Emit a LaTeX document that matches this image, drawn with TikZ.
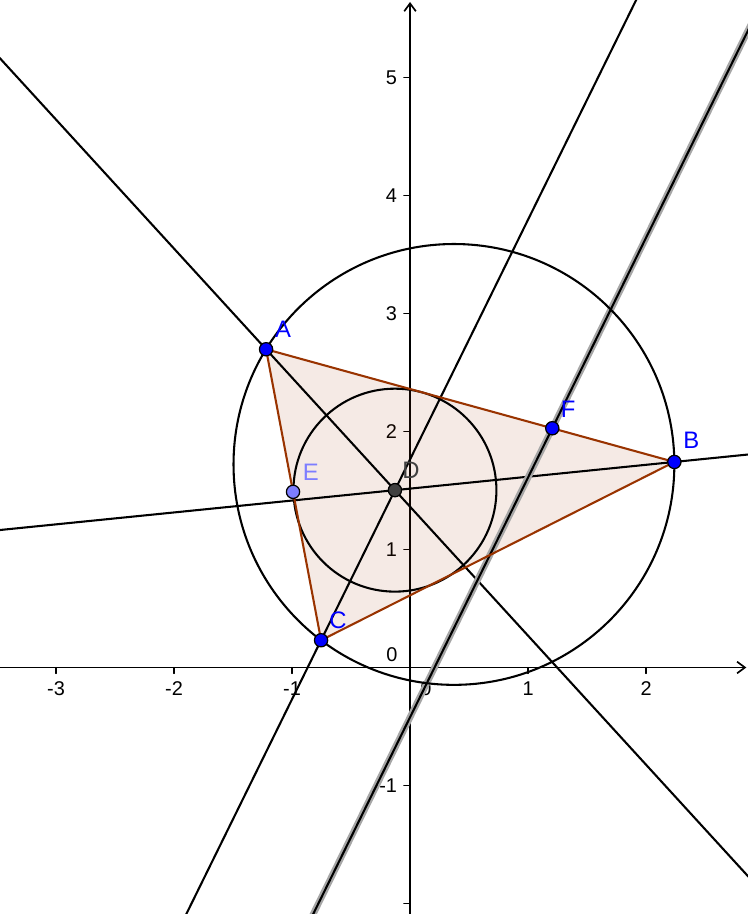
\documentclass[tikz,border=0pt]{standalone}
\usepackage{fontspec}
\setmainfont{Liberation Sans}
\usetikzlibrary{calc,arrows.meta}
\definecolor{ptblue}{RGB}{0,0,255}
\definecolor{ptdark}{RGB}{64,64,64}
\definecolor{ptlight}{RGB}{125,125,255}
\definecolor{polybrown}{RGB}{153,51,0}
\tikzset{
  pt/.style={circle,draw=black,line width=0.6pt,inner sep=0pt,minimum size=6.4pt,fill=#1},
  lbl/.style={font=\fontsize{11.5}{13}\selectfont,text=#1,inner sep=0pt},
  ticklbl/.style={font=\fontsize{9.6}{11}\selectfont,inner sep=1pt},
  axis/.style={line width=0.8pt},
  tick/.style={line width=0.6pt},
  bline/.style={line width=1pt},
}
\begin{document}
\begin{tikzpicture}[x=2cm,y=2cm,line join=round,line cap=round,>={Straight Barb[length=3.8pt,width=5.6pt]}]
  \useasboundingbox (-3.475,-2.089) rectangle (2.864,5.657);
  \clip (-3.475,-2.089) rectangle (2.864,5.657);
  % points
  \coordinate (A) at (-1.220,2.697);
  \coordinate (B) at (2.240,1.742);
  \coordinate (C) at (-0.754,0.231);
  \coordinate (D) at (-0.128,1.503);
  \coordinate (M) at (0.372,1.721);
  \coordinate (E) at ($(A)!0.49!(C)$);
  \coordinate (F) at ($(A)!0.701!(B)$);
  % axes
  \draw[axis,->] (-3.475,0)--(2.85,0);
  \draw[axis,->] (0,-2.089)--(0,5.64);
  \foreach \x in {-3,-2,-1,1,2} \draw[tick] (\x,0)--(\x,-2.9pt) node[ticklbl,below=2.5pt] {\x};
  \foreach \y in {-1,1,2,3,4,5} \draw[tick] (0,\y)--(-3pt,\y) node[ticklbl,left=2pt] {\y};
  \draw[tick] (0,-2)--(-3pt,-2);
  \node[ticklbl] (zeroY) at (-8.7pt,6pt) {0};
  \node[ticklbl] (zeroX) at (7.6pt,-10pt) {0};
  % triangle
  \fill[polybrown,fill opacity=0.1] (A)--(B)--(C)--cycle;
  % bisectors
  \coordinate (adEnd1) at ($(A)!-4!(D)$);
  \coordinate (adEnd2) at ($(A)!6!(D)$);
  \coordinate (bdEnd1) at ($(B)!-1!(D)$);
  \coordinate (bdEnd2) at ($(B)!3!(D)$);
  \coordinate (cdEnd1) at ($(C)!-2!(D)$);
  \coordinate (cdEnd2) at ($(C)!5!(D)$);
  \draw[bline] (adEnd1)--(adEnd2);
  \draw[bline] (bdEnd1)--(bdEnd2);
  \draw[bline] (cdEnd1)--(cdEnd2);
  % parallel through F
  \coordinate (fEnd1) at ($(F)+3*(D)-3*(C)$);
  \coordinate (fEnd2) at ($(F)-4*(D)+4*(C)$);
  \draw[line width=3.2pt,black!35] (fEnd1)--(fEnd2);
  \draw[bline] (fEnd1)--(fEnd2);
  % circles
  \draw[bline] (M) circle (1.868);
  \draw[bline] (D) circle (0.86);
  \draw[polybrown,line width=1pt] (A)--(B)--(C)--cycle;
  % point marks
  \node[pt=ptblue] (nA) at (A) {};
  \node[pt=ptblue] (nB) at (B) {};
  \node[pt=ptblue] (nC) at (C) {};
  \node[pt=ptdark] (nD) at (D) {};
  \node[pt=ptlight] (nE) at (E) {};
  \node[pt=ptblue] (nF) at (F) {};
  \node[lbl=ptblue,xshift=8.2pt,yshift=9.6pt] (labA) at (A) {A};
  \node[lbl=ptblue,xshift=8.2pt,yshift=10.4pt] (labB) at (B) {B};
  \node[lbl=ptblue,xshift=8.2pt,yshift=9.6pt] (labC) at (C) {C};
  \node[lbl=ptdark,xshift=7.7pt,yshift=9.4pt] (labD) at (D) {D};
  \node[lbl=ptlight,xshift=8.6pt,yshift=9.6pt] (labE) at (E) {E};
  \node[lbl=ptblue,xshift=7.7pt,yshift=9.2pt] (labF) at (F) {F};
\end{tikzpicture}
\end{document}
